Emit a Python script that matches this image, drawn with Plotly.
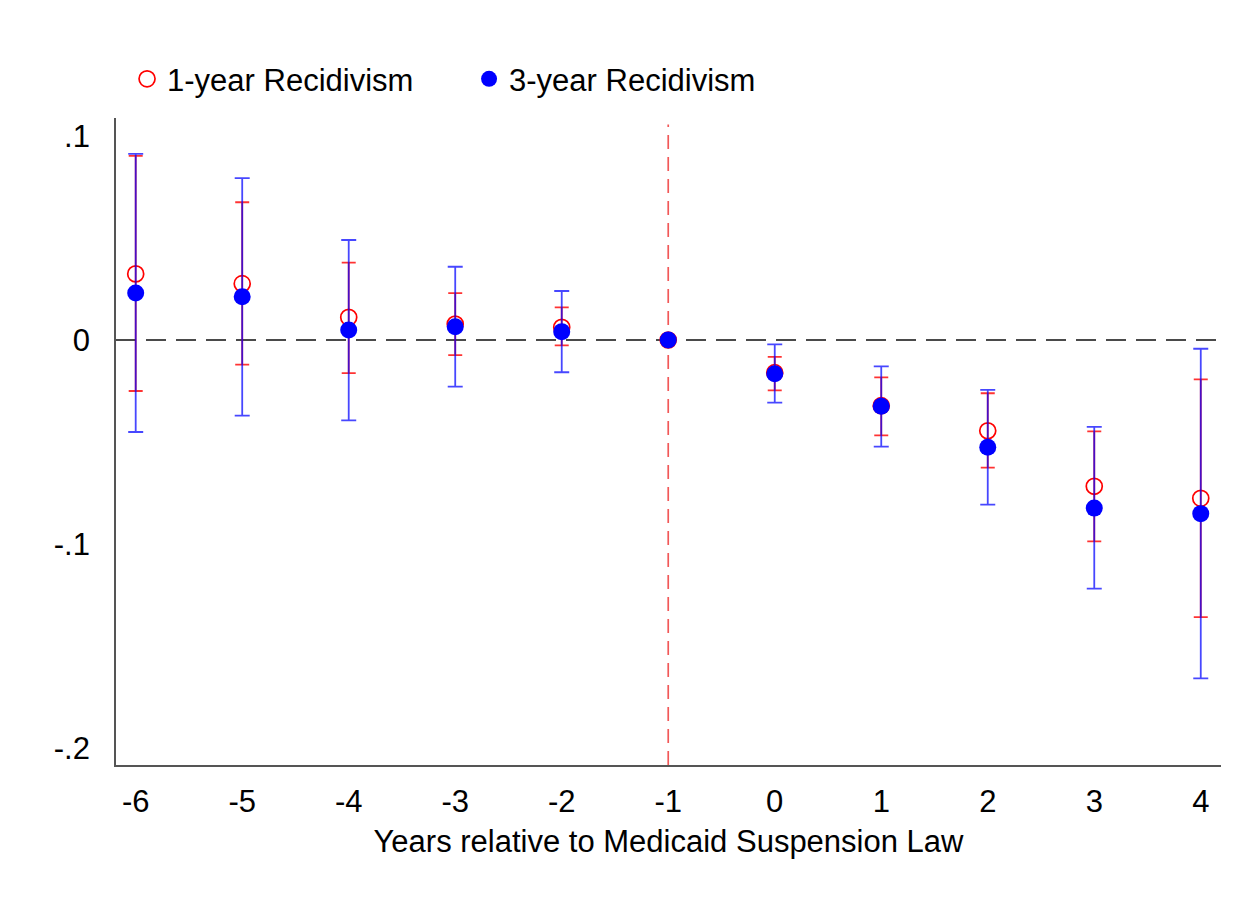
import plotly.graph_objects as go

# Event-study estimates
years = [-6, -5, -4, -3, -2, -1, 0, 1, 2, 3, 4]

one_year_coef = [0.0324, 0.0276, 0.0111, 0.0078, 0.0062, 0.0, -0.0160, -0.0322, -0.0445, -0.0717, -0.0776]
one_year_lo = [-0.0250, -0.0121, -0.0162, -0.0074, -0.0026, 0.0, -0.0247, -0.0467, -0.0626, -0.0987, -0.1358]
one_year_hi = [0.0902, 0.0675, 0.0379, 0.0230, 0.0160, 0.0, -0.0083, -0.0183, -0.0261, -0.0448, -0.0193]

three_year_coef = [0.0230, 0.0212, 0.0049, 0.0065, 0.0041, 0.0, -0.0165, -0.0325, -0.0526, -0.0824, -0.0851]
three_year_lo = [-0.0451, -0.0371, -0.0394, -0.0229, -0.0158, 0.0, -0.0307, -0.0523, -0.0807, -0.1219, -0.1658]
three_year_hi = [0.0912, 0.0793, 0.0490, 0.0359, 0.0240, 0.0, -0.0021, -0.0129, -0.0244, -0.0426, -0.0043]

y_tickvals = [0.1, 0.0, -0.1, -0.2]
y_ticktext = [".1", "0", "-.1", "-.2"]
x_title = "Years relative to Medicaid Suspension Law"
names = ["1-year Recidivism", "3-year Recidivism"]

FONT = "Liberation Sans, Arial, Helvetica, sans-serif"
FS = 31

# page geometry (plotly page body has an 8px margin)
L, T = 108, 110
PW, PH = 1105, 647
W, H = 1249, 903

def err(coef, lo, hi):
    return dict(
        type="data",
        array=[h - c for c, h in zip(coef, hi)],
        arrayminus=[c - l for c, l in zip(coef, lo)],
        symmetric=False,
    )

fig = go.Figure()

e1 = err(one_year_coef, one_year_lo, one_year_hi)
e1.update(color="rgba(255,0,0,0.8)", thickness=1.8, width=7)
fig.add_trace(go.Scatter(
    x=years, y=one_year_coef, mode="markers", name=names[0],
    marker=dict(symbol="circle-open", size=16, color="#ff0000", line=dict(width=1.7, color="#ff0000")),
    error_y=e1,
))

e3 = err(three_year_coef, three_year_lo, three_year_hi)
e3.update(color="rgba(0,0,255,0.72)", thickness=1.8, width=7.5)
fig.add_trace(go.Scatter(
    x=years, y=three_year_coef, mode="markers", name=names[1],
    marker=dict(symbol="circle", size=17, color="#0000ff", line=dict(width=0)),
    error_y=e3,
))

# Reference lines
fig.add_shape(type="line", xref="paper", yref="y", x0=0, x1=1, y0=0, y1=0,
              line=dict(color="#4a4a4a", width=1.8, dash="20px,10px"), layer="below")
fig.add_shape(type="line", xref="x", yref="paper", x0=-1, x1=-1, y0=0, y1=0.99,
              line=dict(color="rgba(240,70,70,0.9)", width=1.7, dash="14px,8px"), layer="below")

# light frame around the graph (top and left edges visible in the reference)
def px2paper_x(px):
    return (px - 8 - L) / PW

def px2paper_y(py):
    return 1 - (py - 8 - T) / PH

fig.add_shape(type="line", xref="paper", yref="paper",
              x0=px2paper_x(7), x1=px2paper_x(1249), y0=px2paper_y(5), y1=px2paper_y(5),
              line=dict(color="#d8d8d8", width=1.5))
fig.add_shape(type="line", xref="paper", yref="paper",
              x0=px2paper_x(7), x1=px2paper_x(7), y0=px2paper_y(5), y1=px2paper_y(903),
              line=dict(color="#d8d8d8", width=1.5))

fig.update_layout(
    width=W, height=H,
    margin=dict(l=L, r=W - L - PW, t=T, b=H - T - PH),
    paper_bgcolor="white", plot_bgcolor="white",
    font=dict(family=FONT, size=FS, color="black"),
    showlegend=True,
    legend=dict(
        orientation="h", x=0.01, xanchor="left", y=1.06, yanchor="middle",
        font=dict(family=FONT, size=FS, color="black"),
        entrywidth=297, entrywidthmode="pixels",
        bgcolor="rgba(0,0,0,0)",
    ),
    xaxis=dict(
        range=[-6.185, 4.19], tickvals=years, ticktext=[str(v) for v in years],
        showgrid=False, zeroline=False, showline=True, linecolor="#555555", linewidth=1.8,
        ticks="", ticklabelstandoff=8,
        title=dict(text=x_title, font=dict(family=FONT, size=FS), standoff=12),
    ),
    yaxis=dict(
        range=[-0.2083, 0.1088], tickvals=y_tickvals, ticktext=y_ticktext,
        showgrid=False, zeroline=False, showline=True, linecolor="#555555", linewidth=1.8,
        ticks="", ticklabelstandoff=18,
    ),
)

fig.write_html("out.html")
